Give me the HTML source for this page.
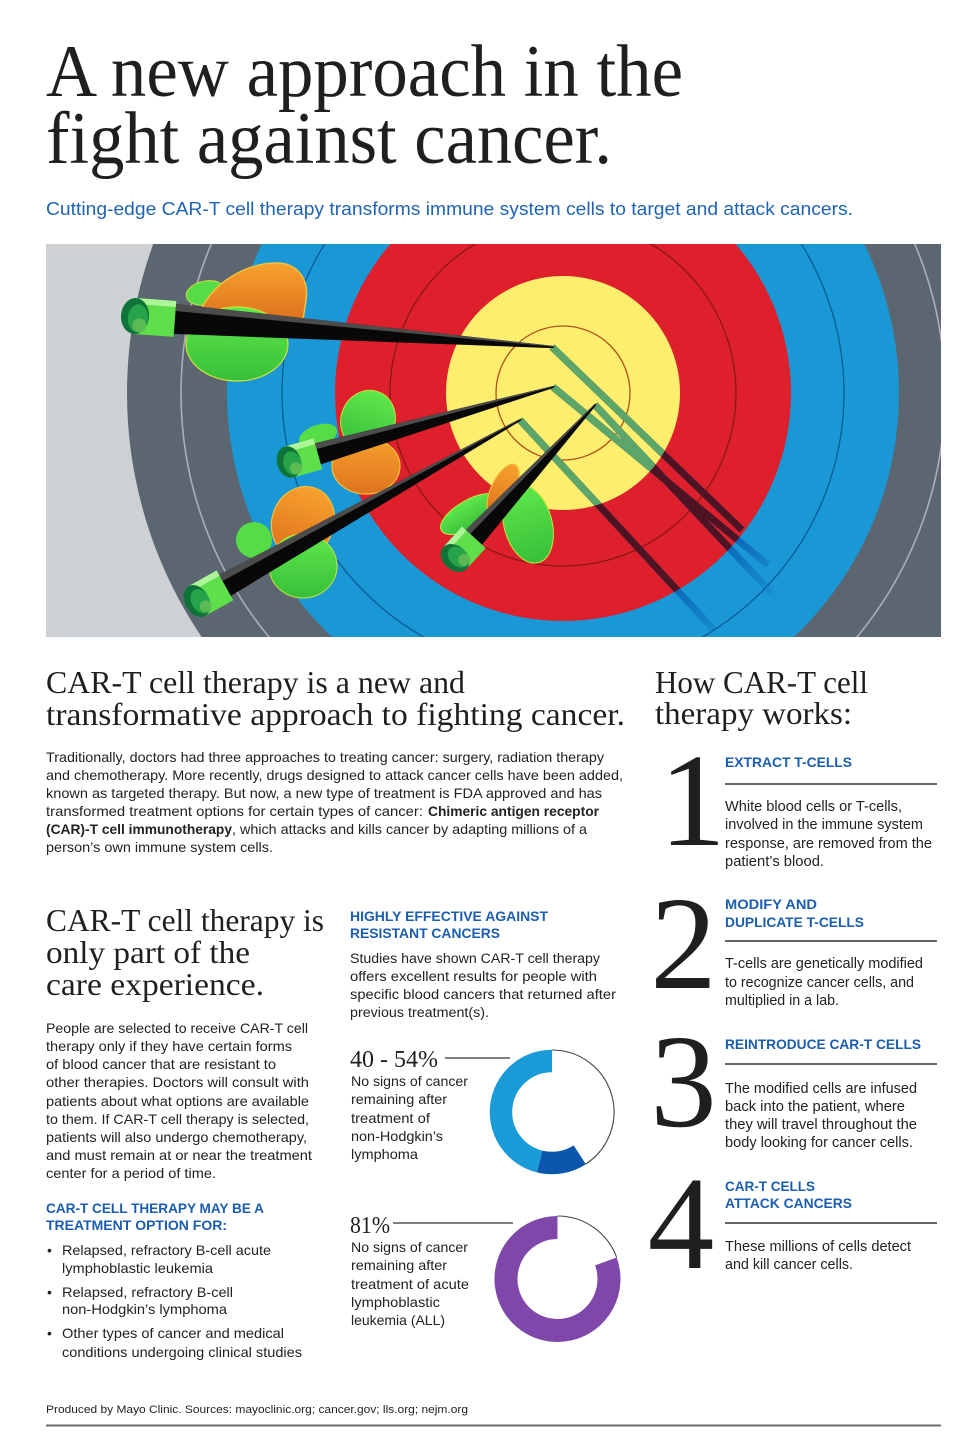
<!DOCTYPE html>
<html>
<head>
<meta charset="utf-8">
<style>
html,body{margin:0;padding:0;background:#fff;}
body{width:960px;height:1447px;overflow:hidden;}
svg{display:block;}
.s{font-family:"Liberation Sans",Arial,sans-serif;}
.r{font-family:"Liberation Serif","Times New Roman",serif;}
.t{fill:#222;}
.h{fill:#1f1f1f;}
.b{fill:#1b5db0;font-weight:bold;}
</style>
</head>
<body>
<svg width="960" height="1447" viewBox="0 0 960 1447" xmlns="http://www.w3.org/2000/svg">
<defs>
  <clipPath id="imgClip"><rect x="46" y="244" width="895" height="393"/></clipPath>
  <clipPath id="cBlue"><circle cx="563" cy="393" r="334"/></clipPath>
  <clipPath id="cRed"><circle cx="563" cy="393" r="228"/></clipPath>
  <clipPath id="cYel"><circle cx="563" cy="393" r="117"/></clipPath>
  <radialGradient id="rgFade" cx="563" cy="393" r="334" gradientUnits="userSpaceOnUse">
    <stop offset="0.66" stop-color="#fff"/>
    <stop offset="0.9" stop-color="#000"/>
  </radialGradient>
  <mask id="mFade"><rect x="46" y="244" width="895" height="393" fill="url(#rgFade)"/></mask>
  <linearGradient id="gOr" x1="0" y1="0" x2="0" y2="1">
    <stop offset="0" stop-color="#f7a12e"/>
    <stop offset="1" stop-color="#de731e"/>
  </linearGradient>
  <linearGradient id="gGr" x1="0" y1="0" x2="0" y2="1">
    <stop offset="0" stop-color="#5fe84b"/>
    <stop offset="1" stop-color="#38bf3a"/>
  </linearGradient>
  <g id="shadowLines" stroke-width="7" stroke-linecap="butt">
    <line x1="552" y1="347" x2="742" y2="530"/>
    <line x1="553" y1="387" x2="768" y2="565"/>
    <line x1="520" y1="420" x2="714" y2="630"/>
    <line x1="595" y1="405" x2="780" y2="602"/>
  </g>
</defs>

<!-- ===== Title ===== -->
<text class="r h" x="46" y="96" font-size="74" textLength="637" lengthAdjust="spacingAndGlyphs">A new approach in the</text>
<text class="r h" x="46" y="163" font-size="74" textLength="566" lengthAdjust="spacingAndGlyphs">fight against cancer.</text>
<text class="s" fill="#1f63b4" x="46" y="215" font-size="18" textLength="807" lengthAdjust="spacingAndGlyphs">Cutting-edge CAR-T cell therapy transforms immune system cells to target and attack cancers.</text>

<!-- ===== Target image ===== -->
<g clip-path="url(#imgClip)">
  <rect x="46" y="244" width="895" height="393" fill="#ced1d4"/>
  <circle cx="563" cy="393" r="436" fill="#5b6671"/>
  <rect x="563" y="244" width="378" height="393" fill="#5b6671"/>
  <circle cx="563" cy="393" r="382" fill="none" stroke="#a9b0b7" stroke-width="1.6"/>
  <circle cx="563" cy="393" r="336" fill="#1a98d5"/>
  <circle cx="563" cy="393" r="281" fill="none" stroke="#0b5a96" stroke-width="1.3"/>
  <circle cx="563" cy="393" r="228" fill="#de1f2c"/>
  <circle cx="563" cy="393" r="173" fill="none" stroke="#8a1812" stroke-width="1.3"/>
  <circle cx="563" cy="393" r="117" fill="#fdee6e"/>
  <circle cx="563" cy="393" r="67" fill="none" stroke="#b0501c" stroke-width="1.3"/>

  <!-- shadows -->
  <g clip-path="url(#cBlue)" mask="url(#mFade)"><use href="#shadowLines" stroke="#0a66b8"/></g>
  <g clip-path="url(#cRed)"><use href="#shadowLines" stroke="#4e1424"/></g>
  <g clip-path="url(#cYel)"><use href="#shadowLines" stroke="#5ca66a"/></g>

  <!-- Arrow 1 fletches -->
  <ellipse cx="206" cy="293" rx="20" ry="12" transform="rotate(-10 206 293)" fill="#56dc46" stroke="#c9e43a" stroke-width="1"/>
  <path d="M199,314 C212,282 248,262 278,263 C300,264 309,282 306,300 L303,320 Z" fill="url(#gOr)" stroke="#f2c23a" stroke-width="1.5"/>
  <ellipse cx="237" cy="344" rx="51" ry="37" fill="url(#gGr)" stroke="#d3e33a" stroke-width="1.2"/>
  <!-- Arrow 2 fletches -->
  <ellipse cx="318" cy="436" rx="20" ry="11" transform="rotate(-20 318 436)" fill="#56dc46"/>
  <ellipse cx="368" cy="420" rx="27" ry="30" transform="rotate(20 368 420)" fill="url(#gGr)" stroke="#c9e43a" stroke-width="1"/>
  <ellipse cx="366" cy="466" rx="34" ry="28" fill="url(#gOr)" stroke="#f2c23a" stroke-width="1.2"/>
  <!-- Arrow 3 fletches -->
  <ellipse cx="254" cy="540" rx="18" ry="18" fill="#56dc46"/>
  <ellipse cx="303" cy="522" rx="31" ry="36" transform="rotate(20 303 522)" fill="url(#gOr)" stroke="#f2c23a" stroke-width="1.2"/>
  <ellipse cx="303" cy="566" rx="34" ry="32" fill="url(#gGr)" stroke="#c9e43a" stroke-width="1"/>
  <!-- Arrow 4 fletches -->
  <ellipse cx="470" cy="514" rx="33" ry="14" transform="rotate(-30 470 514)" fill="url(#gGr)" stroke="#c9e43a" stroke-width="1"/>
  <ellipse cx="528" cy="524" rx="24" ry="40" transform="rotate(-15 528 524)" fill="url(#gGr)" stroke="#c9e43a" stroke-width="1"/>
  <ellipse cx="503" cy="490" rx="12" ry="28" transform="rotate(25 503 490)" fill="url(#gOr)" stroke="#f2c23a" stroke-width="1.2"/>

  <!-- Arrow 1 -->
  <g transform="translate(135 316) rotate(4.25)">
    <polygon points="40,-15 418,-1.2 421,0 418,1.2 40,15" fill="#080808"/>
    <polygon points="40,-15 418,-1.2 418,-0.3 40,-8" fill="#4c4c4c"/>
    <rect x="0" y="-18" width="40" height="36" fill="#5fe04b"/>
    <rect x="0" y="-18" width="40" height="6" fill="#aef59a"/>
    <ellipse cx="0" cy="0" rx="14" ry="18" fill="#0f7237"/>
    <ellipse cx="3" cy="2" rx="10" ry="14" fill="#27a34a"/>
    <ellipse cx="5" cy="9" rx="7" ry="7" fill="#5cba55"/>
  </g>
  <!-- Arrow 2 -->
  <g transform="translate(289 462) rotate(-15.86)">
    <polygon points="30,-11 274,-1 277,0 274,1 30,11" fill="#080808"/>
    <polygon points="30,-11 274,-1 274,-0.3 30,-5" fill="#4c4c4c"/>
    <rect x="0" y="-16" width="30" height="32" fill="#5fe04b"/>
    <rect x="0" y="-16" width="30" height="6" fill="#aef59a"/>
    <ellipse cx="0" cy="0" rx="12" ry="16" fill="#0f7237"/>
    <ellipse cx="3" cy="2" rx="9" ry="12" fill="#27a34a"/>
    <ellipse cx="5" cy="8" rx="6" ry="6" fill="#5cba55"/>
  </g>
  <!-- Arrow 3 -->
  <g transform="translate(197 601) rotate(-29.26)">
    <polygon points="32,-12 370,-1 373,0 370,1 32,12" fill="#080808"/>
    <polygon points="32,-12 370,-1 370,-0.3 32,-5" fill="#4c4c4c"/>
    <rect x="0" y="-17" width="32" height="34" fill="#5fe04b"/>
    <rect x="0" y="-17" width="32" height="6" fill="#aef59a"/>
    <ellipse cx="0" cy="0" rx="12" ry="17" fill="#0f7237"/>
    <ellipse cx="3" cy="2" rx="9" ry="13" fill="#27a34a"/>
    <ellipse cx="5" cy="9" rx="6" ry="6" fill="#5cba55"/>
  </g>
  <!-- Arrow 4 -->
  <g transform="translate(455 558) rotate(-47.54)">
    <polygon points="28,-11 207,-1 210,0 207,1 28,11" fill="#080808"/>
    <polygon points="28,-11 207,-1 207,-0.3 28,-5" fill="#4c4c4c"/>
    <rect x="0" y="-16" width="28" height="32" fill="#5fe04b"/>
    <rect x="0" y="-16" width="28" height="6" fill="#aef59a"/>
    <ellipse cx="0" cy="0" rx="12" ry="16" fill="#0f7237"/>
    <ellipse cx="3" cy="2" rx="9" ry="12" fill="#27a34a"/>
    <ellipse cx="5" cy="8" rx="6" ry="6" fill="#5cba55"/>
  </g>
</g>

<!-- ===== Section: transformative approach ===== -->
<text class="r h" x="46" y="693" font-size="32" textLength="419" lengthAdjust="spacingAndGlyphs">CAR-T cell therapy is a new and</text>
<text class="r h" x="46" y="725" font-size="32" textLength="579" lengthAdjust="spacingAndGlyphs">transformative approach to fighting cancer.</text>

<text class="s t" x="46" y="762" font-size="14" textLength="558" lengthAdjust="spacingAndGlyphs">Traditionally, doctors had three approaches to treating cancer: surgery, radiation therapy</text>
<text class="s t" x="46" y="780" font-size="14" textLength="577" lengthAdjust="spacingAndGlyphs">and chemotherapy. More recently, drugs designed to attack cancer cells have been added,</text>
<text class="s t" x="46" y="798" font-size="14" textLength="556" lengthAdjust="spacingAndGlyphs">known as targeted therapy. But now, a new type of treatment is FDA approved and has</text>
<text class="s t" x="46" y="816" font-size="14" textLength="377" lengthAdjust="spacingAndGlyphs">transformed treatment options for certain types of cancer:</text>
<text class="s t" x="428" y="816" font-size="14" font-weight="bold" textLength="171" lengthAdjust="spacingAndGlyphs">Chimeric antigen receptor</text>
<text class="s t" x="46" y="834" font-size="14" font-weight="bold" textLength="186" lengthAdjust="spacingAndGlyphs">(CAR)-T cell immunotherapy</text>
<text class="s t" x="232" y="834" font-size="14" textLength="355" lengthAdjust="spacingAndGlyphs">, which attacks and kills cancer by adapting millions of a</text>
<text class="s t" x="46" y="852" font-size="14" textLength="227" lengthAdjust="spacingAndGlyphs">person’s own immune system cells.</text>

<!-- ===== Section: care experience ===== -->
<text class="r h" x="46" y="931" font-size="32" textLength="278" lengthAdjust="spacingAndGlyphs">CAR-T cell therapy is</text>
<text class="r h" x="46" y="963" font-size="32" textLength="204" lengthAdjust="spacingAndGlyphs">only part of the</text>
<text class="r h" x="46" y="995" font-size="32" textLength="218" lengthAdjust="spacingAndGlyphs">care experience.</text>

<text class="s t" x="46" y="1033" font-size="14" textLength="262" lengthAdjust="spacingAndGlyphs">People are selected to receive CAR-T cell</text>
<text class="s t" x="46" y="1051" font-size="14" textLength="246" lengthAdjust="spacingAndGlyphs">therapy only if they have certain forms</text>
<text class="s t" x="46" y="1069" font-size="14" textLength="230" lengthAdjust="spacingAndGlyphs">of blood cancer that are resistant to</text>
<text class="s t" x="46" y="1087" font-size="14" textLength="263" lengthAdjust="spacingAndGlyphs">other therapies. Doctors will consult with</text>
<text class="s t" x="46" y="1106" font-size="14" textLength="263" lengthAdjust="spacingAndGlyphs">patients about what options are available</text>
<text class="s t" x="46" y="1124" font-size="14" textLength="263" lengthAdjust="spacingAndGlyphs">to them. If CAR-T cell therapy is selected,</text>
<text class="s t" x="46" y="1142" font-size="14" textLength="261" lengthAdjust="spacingAndGlyphs">patients will also undergo chemotherapy,</text>
<text class="s t" x="46" y="1160" font-size="14" textLength="266" lengthAdjust="spacingAndGlyphs">and must remain at or near the treatment</text>
<text class="s t" x="46" y="1178" font-size="14" textLength="170" lengthAdjust="spacingAndGlyphs">center for a period of time.</text>

<text class="s b" x="46" y="1213" font-size="14" textLength="218" lengthAdjust="spacingAndGlyphs">CAR-T CELL THERAPY MAY BE A</text>
<text class="s b" x="46" y="1230" font-size="14" textLength="181" lengthAdjust="spacingAndGlyphs">TREATMENT OPTION FOR:</text>

<text class="s t" x="47" y="1255" font-size="14">•</text>
<text class="s t" x="62" y="1255" font-size="14" textLength="209" lengthAdjust="spacingAndGlyphs">Relapsed, refractory B-cell acute</text>
<text class="s t" x="62" y="1273" font-size="14" textLength="151" lengthAdjust="spacingAndGlyphs">lymphoblastic leukemia</text>
<text class="s t" x="47" y="1297" font-size="14">•</text>
<text class="s t" x="62" y="1297" font-size="14" textLength="171" lengthAdjust="spacingAndGlyphs">Relapsed, refractory B-cell</text>
<text class="s t" x="62" y="1314" font-size="14" textLength="165" lengthAdjust="spacingAndGlyphs">non-Hodgkin’s lymphoma</text>
<text class="s t" x="47" y="1338" font-size="14">•</text>
<text class="s t" x="62" y="1338" font-size="14" textLength="222" lengthAdjust="spacingAndGlyphs">Other types of cancer and medical</text>
<text class="s t" x="62" y="1357" font-size="14" textLength="240" lengthAdjust="spacingAndGlyphs">conditions undergoing clinical studies</text>

<!-- ===== Middle column ===== -->
<text class="s b" x="350" y="921" font-size="14" textLength="198" lengthAdjust="spacingAndGlyphs">HIGHLY EFFECTIVE AGAINST</text>
<text class="s b" x="350" y="938" font-size="14" textLength="150" lengthAdjust="spacingAndGlyphs">RESISTANT CANCERS</text>
<text class="s t" x="350" y="963" font-size="14.2" textLength="250" lengthAdjust="spacingAndGlyphs">Studies have shown CAR-T cell therapy</text>
<text class="s t" x="350" y="981" font-size="14.2" textLength="247" lengthAdjust="spacingAndGlyphs">offers excellent results for people with</text>
<text class="s t" x="350" y="999" font-size="14.2" textLength="266" lengthAdjust="spacingAndGlyphs">specific blood cancers that returned after</text>
<text class="s t" x="350" y="1017" font-size="14.2" textLength="139" lengthAdjust="spacingAndGlyphs">previous treatment(s).</text>

<!-- Stat 1 -->
<text class="r h" x="350" y="1067" font-size="24" textLength="88" lengthAdjust="spacingAndGlyphs">40 - 54%</text>
<line x1="445" y1="1058" x2="510" y2="1058" stroke="#333" stroke-width="1.3"/>
<text class="s t" x="351" y="1086" font-size="14" textLength="117" lengthAdjust="spacingAndGlyphs">No signs of cancer</text>
<text class="s t" x="351" y="1104" font-size="14" textLength="96" lengthAdjust="spacingAndGlyphs">remaining after</text>
<text class="s t" x="351" y="1123" font-size="14" textLength="79" lengthAdjust="spacingAndGlyphs">treatment of</text>
<text class="s t" x="351" y="1141" font-size="14" textLength="92" lengthAdjust="spacingAndGlyphs">non-Hodgkin’s</text>
<text class="s t" x="351" y="1159" font-size="14" textLength="67" lengthAdjust="spacingAndGlyphs">lymphoma</text>

<path d="M 552 1050 A 62 62 0 0 1 585.8 1164" fill="none" stroke="#444" stroke-width="1.1"/>
<path d="M 539.66 1161.49 A 51 51 0 0 1 552 1061" fill="none" stroke="#1a9bd8" stroke-width="22.5"/>
<path d="M 579.78 1154.77 A 51 51 0 0 1 539.66 1161.49" fill="none" stroke="#0b57ae" stroke-width="22.5"/>

<!-- Stat 2 -->
<text class="r h" x="350" y="1233" font-size="24" textLength="40" lengthAdjust="spacingAndGlyphs">81%</text>
<line x1="393" y1="1223" x2="513" y2="1223" stroke="#333" stroke-width="1.3"/>
<text class="s t" x="351" y="1252" font-size="14" textLength="117" lengthAdjust="spacingAndGlyphs">No signs of cancer</text>
<text class="s t" x="351" y="1270" font-size="14" textLength="96" lengthAdjust="spacingAndGlyphs">remaining after</text>
<text class="s t" x="351" y="1289" font-size="14" textLength="118" lengthAdjust="spacingAndGlyphs">treatment of acute</text>
<text class="s t" x="351" y="1307" font-size="14" textLength="89" lengthAdjust="spacingAndGlyphs">lymphoblastic</text>
<text class="s t" x="351" y="1325" font-size="14" textLength="94" lengthAdjust="spacingAndGlyphs">leukemia (ALL)</text>

<path d="M 557.5 1216 A 63 63 0 0 1 616.7 1257.45" fill="none" stroke="#444" stroke-width="1.1"/>
<path d="M 605.89 1261.39 A 51.5 51.5 0 1 1 557.5 1227.5" fill="none" stroke="#8047ab" stroke-width="23"/>

<!-- ===== Right column ===== -->
<text class="r h" x="655" y="693" font-size="32" textLength="213" lengthAdjust="spacingAndGlyphs">How CAR-T cell</text>
<text class="r h" x="655" y="724" font-size="32" textLength="197" lengthAdjust="spacingAndGlyphs">therapy works:</text>

<text class="r h" x="692.5" y="845" font-size="133" text-anchor="middle">1</text>
<text class="s b" x="725" y="767" font-size="14" textLength="127" lengthAdjust="spacingAndGlyphs">EXTRACT T-CELLS</text>
<line x1="725" y1="784" x2="937" y2="784" stroke="#333" stroke-width="1.4"/>
<text class="s t" x="725" y="811" font-size="14.5" textLength="177" lengthAdjust="spacingAndGlyphs">White blood cells or T-cells,</text>
<text class="s t" x="725" y="829" font-size="14.5" textLength="198" lengthAdjust="spacingAndGlyphs">involved in the immune system</text>
<text class="s t" x="725" y="848" font-size="14.5" textLength="207" lengthAdjust="spacingAndGlyphs">response, are removed from the</text>
<text class="s t" x="725" y="866" font-size="14.5" textLength="99" lengthAdjust="spacingAndGlyphs">patient’s blood.</text>

<text class="r h" x="683.5" y="988" font-size="133" text-anchor="middle">2</text>
<text class="s b" x="725" y="909" font-size="14" textLength="92" lengthAdjust="spacingAndGlyphs">MODIFY AND</text>
<text class="s b" x="725" y="927" font-size="14" textLength="139" lengthAdjust="spacingAndGlyphs">DUPLICATE T-CELLS</text>
<line x1="725" y1="941" x2="937" y2="941" stroke="#333" stroke-width="1.4"/>
<text class="s t" x="725" y="968" font-size="14.5" textLength="198" lengthAdjust="spacingAndGlyphs">T-cells are genetically modified</text>
<text class="s t" x="725" y="987" font-size="14.5" textLength="189" lengthAdjust="spacingAndGlyphs">to recognize cancer cells, and</text>
<text class="s t" x="725" y="1005" font-size="14.5" textLength="114" lengthAdjust="spacingAndGlyphs">multiplied in a lab.</text>

<text class="r h" x="683.5" y="1126" font-size="133" text-anchor="middle">3</text>
<text class="s b" x="725" y="1049" font-size="14" textLength="196" lengthAdjust="spacingAndGlyphs">REINTRODUCE CAR-T CELLS</text>
<line x1="725" y1="1064" x2="937" y2="1064" stroke="#333" stroke-width="1.4"/>
<text class="s t" x="725" y="1093" font-size="14.5" textLength="192" lengthAdjust="spacingAndGlyphs">The modified cells are infused</text>
<text class="s t" x="725" y="1111" font-size="14.5" textLength="180" lengthAdjust="spacingAndGlyphs">back into the patient, where</text>
<text class="s t" x="725" y="1129" font-size="14.5" textLength="192" lengthAdjust="spacingAndGlyphs">they will travel throughout the</text>
<text class="s t" x="725" y="1147" font-size="14.5" textLength="188" lengthAdjust="spacingAndGlyphs">body looking for cancer cells.</text>

<text class="r h" x="681" y="1268" font-size="133" text-anchor="middle">4</text>
<text class="s b" x="725" y="1191" font-size="14" textLength="90" lengthAdjust="spacingAndGlyphs">CAR-T CELLS</text>
<text class="s b" x="725" y="1208" font-size="14" textLength="127" lengthAdjust="spacingAndGlyphs">ATTACK CANCERS</text>
<line x1="725" y1="1223" x2="937" y2="1223" stroke="#333" stroke-width="1.4"/>
<text class="s t" x="725" y="1251" font-size="14.5" textLength="186" lengthAdjust="spacingAndGlyphs">These millions of cells detect</text>
<text class="s t" x="725" y="1269" font-size="14.5" textLength="128" lengthAdjust="spacingAndGlyphs">and kill cancer cells.</text>

<!-- ===== Footer ===== -->
<text class="s t" x="46" y="1413" font-size="11" textLength="422" lengthAdjust="spacingAndGlyphs">Produced by Mayo Clinic. Sources: mayoclinic.org; cancer.gov; lls.org; nejm.org</text>
<line x1="46" y1="1425.5" x2="941" y2="1425.5" stroke="#6a6a6a" stroke-width="2"/>
</svg>
</body>
</html>
